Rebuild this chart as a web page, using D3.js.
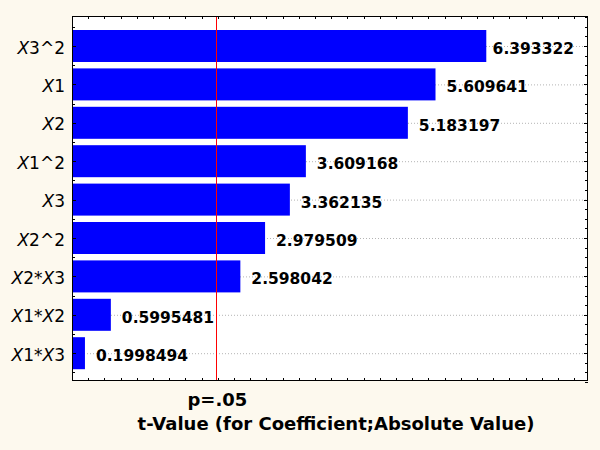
<!DOCTYPE html>
<html><head><meta charset="utf-8">
<script src="https://cdn.jsdelivr.net/npm/d3@7"></script>
<style>html,body{margin:0;padding:0;background:#fdf9ee;}svg{display:block;}</style>
</head><body>
<svg id="chart" width="600" height="450"></svg>
<script>
// Data
const effects = ["X3^2", "X1", "X2", "X1^2", "X3", "X2^2", "X2*X3", "X1*X2", "X1*X3"];
const tValues = [6.393322, 5.609641, 5.183197, 3.609168, 3.362135, 2.979509, 2.598042, 0.5995481, 0.1998494];
const valueLabels = ["6.393322", "5.609641", "5.183197", "3.609168", "3.362135", "2.979509", "2.598042", "0.5995481", "0.1998494"];
const pCritical = 2.228;
const pLabel = "p=.05";
const xTitle = "t-Value (for Coefficient;Absolute Value)";

const svg = d3.select("#chart");
const W = 600, H = 450;
const plot = {left: 72, top: 16, right: 588, bottom: 381};

svg.append("rect").attr("width", W).attr("height", H).attr("fill", "#fdf9ee");
svg.append("rect").attr("x", plot.left).attr("y", plot.top)
  .attr("width", plot.right - plot.left).attr("height", plot.bottom - plot.top).attr("fill", "#ffffff");

const x = d3.scaleLinear().domain([0, 7.963]).range([plot.left, plot.right]);
const y = d3.scaleBand().domain(effects).range([26.8, 372.4]).paddingInner(0.1667).paddingOuter(0.0833);
const yIdx = d3.scaleLinear().domain([-0.5, 8.5]).range([26.8, 372.4]);
const cy = d => y(d) + y.bandwidth() / 2;

// gridlines
svg.append("g").selectAll("line").data(effects).join("line")
  .attr("x1", plot.left).attr("x2", plot.right)
  .attr("y1", d => cy(d) + 0.5).attr("y2", d => cy(d) + 0.5)
  .attr("stroke", "#b4b4b4").attr("stroke-width", 1).attr("stroke-dasharray", "1,2");

// bars
svg.append("g").selectAll("rect").data(effects).join("rect")
  .attr("x", x(0)).attr("y", d => y(d))
  .attr("width", (d, i) => x(tValues[i]) - x(0))
  .attr("height", y.bandwidth())
  .attr("fill", "#0000ff");

// value labels
svg.append("g").selectAll("text").data(effects).join("text")
  .attr("x", (d, i) => x(tValues[i]) + 11)
  .attr("y", d => cy(d) + 2.5)
  .attr("dy", "0.36em")
  .attr("font-family", "DejaVu Sans, Verdana, sans-serif")
  .attr("font-weight", "bold").attr("font-size", "15.5px")
  .attr("fill", "#000")
  .text((d, i) => valueLabels[i])
  .each(function(d, i) {
    const w = this.getComputedTextLength();
    const xs = x(tValues[i]) + 11;
    if (xs + w > plot.right - 14) d3.select(this).attr("x", Math.max(x(tValues[i]) + 5, plot.right - 14 - w));
  });

// red reference line
svg.append("line")
  .attr("x1", Math.round(x(pCritical)) + 0.5).attr("x2", Math.round(x(pCritical)) + 0.5)
  .attr("y1", plot.top).attr("y2", plot.bottom)
  .attr("stroke", "#ff0000").attr("stroke-width", 1);

// frame
svg.append("rect").attr("x", plot.left + 0.5).attr("y", plot.top + 0.5)
  .attr("width", plot.right - plot.left - 1).attr("height", plot.bottom - plot.top - 1)
  .attr("fill", "none").attr("stroke", "#000").attr("stroke-width", 1);

// ticks
const tk = svg.append("g").attr("stroke", "#000").attr("stroke-width", 1);
const xt = d3.range(1, 32).map(k => k * 0.25);
xt.forEach(v => {
  const px = Math.round(x(v)) + 0.5;
  tk.append("line").attr("x1", px).attr("x2", px).attr("y1", plot.bottom).attr("y2", plot.bottom - 3);
  tk.append("line").attr("x1", px).attr("x2", px).attr("y1", plot.top).attr("y2", plot.top + 3);
});
d3.range(-0.5, 8.6, 0.5).forEach(v => {
  const py = Math.round(yIdx(v)) + 0.5;
  const len = Number.isInteger(v) ? 4 : 3;
  tk.append("line").attr("x1", plot.left).attr("x2", plot.left + len).attr("y1", py).attr("y2", py);
});
d3.range(-0.75, 8.76, 0.25).forEach(v => {
  const py = Math.round(yIdx(v)) + 0.5;
  const len = Number.isInteger(v) ? 4 : 3;
  tk.append("line").attr("x1", plot.right).attr("x2", plot.right - len).attr("y1", py).attr("y2", py);
});

// y labels with italic X
const yl = svg.append("g").selectAll("text").data(effects).join("text")
  .attr("x", 65).attr("y", d => cy(d) + 1.5).attr("dy", "0.36em")
  .attr("text-anchor", "end")
  .attr("font-family", "DejaVu Sans, Verdana, sans-serif")
  .attr("font-size", "17px").attr("fill", "#000");
yl.each(function(d) {
  const t = d3.select(this);
  const parts = d.split(/(X)/).filter(s => s.length);
  parts.forEach(p => {
    t.append("tspan").attr("font-style", p === "X" ? "italic" : "normal").text(p);
  });
});

// p label and axis title
svg.append("text").attr("x", x(pCritical) + 1).attr("y", 406)
  .attr("text-anchor", "middle")
  .attr("font-family", "DejaVu Sans, Verdana, sans-serif")
  .attr("font-weight", "bold").attr("font-size", "18px").attr("fill", "#000")
  .text(pLabel);
svg.append("text").attr("x", 336).attr("y", 430)
  .attr("text-anchor", "middle")
  .attr("font-family", "DejaVu Sans, Verdana, sans-serif")
  .attr("font-weight", "bold").attr("font-size", "18px").attr("fill", "#000")
  .text(xTitle);
</script>
</body></html>
